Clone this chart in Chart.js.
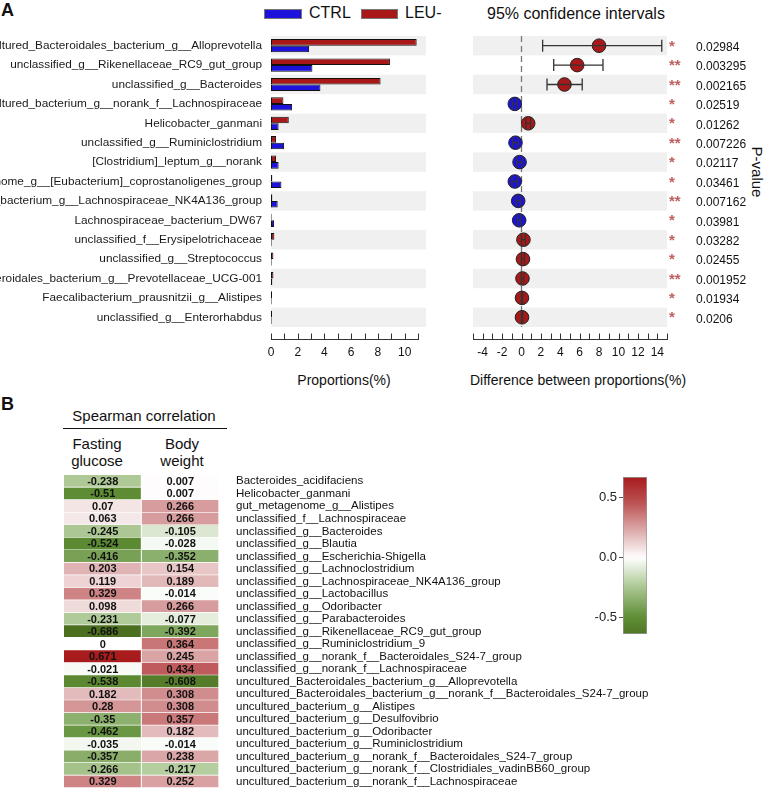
<!DOCTYPE html>
<html>
<head>
<meta charset="utf-8">
<script src="https://cdn.jsdelivr.net/npm/chart.js@4.4.1/dist/chart.umd.min.js"></script>
<style>
  body { margin: 0; background: #fff; width: 767px; height: 792px; position: relative; overflow: hidden;
         font-family: "Liberation Sans", Arial, sans-serif; color: #111; }
  canvas, .txt { position: absolute; }
  .txt { white-space: nowrap; line-height: 1; }
  .box { position: absolute; border: 1px solid #777; box-sizing: border-box; }
</style>
</head>
<body>
<div class="txt" style="left:1px;top:1px;font-size:18px;font-weight:bold;">A</div>
<div class="box" style="left:264px;top:9px;width:38px;height:10px;background:#1c12dc;"></div>
<div class="txt" style="left:309px;top:4.5px;font-size:16px;">CTRL</div>
<div class="box" style="left:361px;top:9px;width:37px;height:10px;background:#a81818;"></div>
<div class="txt" style="left:405px;top:4.5px;font-size:16px;">LEU-</div>
<div class="txt" style="left:487px;top:6px;font-size:16px;">95% confidence intervals</div>
<div class="txt" style="left:244px;top:373px;width:200px;text-align:center;font-size:14px;">Proportions(%)</div>
<div class="txt" style="left:470px;top:373px;width:200px;text-align:center;font-size:14px;">Difference between proportions(%)</div>
<div class="txt" style="left:757px;top:172px;font-size:15px;transform:translate(-50%,-50%) rotate(90deg);">P-value</div>

<div class="txt" style="left:1px;top:395px;font-size:18px;font-weight:bold;">B</div>
<div class="txt" style="left:44px;top:408px;width:200px;text-align:center;font-size:15px;">Spearman correlation</div>
<div style="position:absolute;left:63px;top:427.5px;width:164px;height:1.5px;background:#111;"></div>
<div class="txt" style="left:47px;top:436px;width:100px;text-align:center;font-size:15px;line-height:16.5px;">Fasting<br>glucose</div>
<div class="txt" style="left:132px;top:436px;width:100px;text-align:center;font-size:15px;line-height:16.5px;">Body<br>weight</div>

<canvas id="barChart" width="440" height="400" style="left:0;top:0;"></canvas>
<canvas id="ciChart" width="327" height="400" style="left:440px;top:0;"></canvas>
<canvas id="heatChart" width="767" height="329" style="left:0;top:467px;"></canvas>
<canvas id="scaleChart" width="100" height="180" style="left:560px;top:465px;"></canvas>

<script>
// panel A: taxa that differ between groups
const taxaA = [
  'uncultured_Bacteroidales_bacterium_g__Alloprevotella',
  'unclassified_g__Rikenellaceae_RC9_gut_group',
  'unclassified_g__Bacteroides',
  'uncultured_bacterium_g__norank_f__Lachnospiraceae',
  'Helicobacter_ganmani',
  'unclassified_g__Ruminiclostridium',
  '[Clostridium]_leptum_g__norank',
  'gut_metagenome_g__[Eubacterium]_coprostanoligenes_group',
  'uncultured_bacterium_g__Lachnospiraceae_NK4A136_group',
  'Lachnospiraceae_bacterium_DW67',
  'unclassified_f__Erysipelotrichaceae',
  'unclassified_g__Streptococcus',
  'uncultured_Bacteroidales_bacterium_g__Prevotellaceae_UCG-001',
  'Faecalibacterium_prausnitzii_g__Alistipes',
  'unclassified_g__Enterorhabdus'
];
const ctrlProp = [2.85, 3.1, 3.7, 1.58, 0.57, 0.98, 0.57, 0.78, 0.5, 0.23, 0.05, 0.05, 0.1, 0.05, 0.05];
const leuProp  = [10.9, 8.9, 8.2, 0.93, 1.33, 0.38, 0.38, 0.1, 0.1, 0.05, 0.25, 0.18, 0.18, 0.08, 0.08];
const diffMean = [7.99, 5.74, 4.43, -0.69, 0.69, -0.62, -0.2, -0.69, -0.34, -0.24, 0.2, 0.15, 0.1, 0.05, 0.05];
const ciLow    = [2.18, 3.32, 2.63, -0.95, 0.45, -0.9, -0.45, -1.0, -0.55, -0.4, 0.0, 0.0, -0.02, 0.0, 0.0];
const ciHigh   = [14.46, 8.4, 6.26, -0.43, 0.93, -0.35, 0.05, -0.4, -0.12, -0.08, 0.4, 0.3, 0.25, 0.12, 0.12];
const pValues  = ['0.02984', '0.003295', '0.002165', '0.02519', '0.01262', '0.007226', '0.02117',
                  '0.03461', '0.007162', '0.03981', '0.03282', '0.02455', '0.001952', '0.01934', '0.0206'];

// panel B: spearman correlations
const taxaB = [
  'Bacteroides_acidifaciens',
  'Helicobacter_ganmani',
  'gut_metagenome_g__Alistipes',
  'unclassified_f__Lachnospiraceae',
  'unclassified_g__Bacteroides',
  'unclassified_g__Blautia',
  'unclassified_g__Escherichia-Shigella',
  'unclassified_g__Lachnoclostridium',
  'unclassified_g__Lachnospiraceae_NK4A136_group',
  'unclassified_g__Lactobacillus',
  'unclassified_g__Odoribacter',
  'unclassified_g__Parabacteroides',
  'unclassified_g__Rikenellaceae_RC9_gut_group',
  'unclassified_g__Ruminiclostridium_9',
  'unclassified_g__norank_f__Bacteroidales_S24-7_group',
  'unclassified_g__norank_f__Lachnospiraceae',
  'uncultured_Bacteroidales_bacterium_g__Alloprevotella',
  'uncultured_Bacteroidales_bacterium_g__norank_f__Bacteroidales_S24-7_group',
  'uncultured_bacterium_g__Alistipes',
  'uncultured_bacterium_g__Desulfovibrio',
  'uncultured_bacterium_g__Odoribacter',
  'uncultured_bacterium_g__Ruminiclostridium',
  'uncultured_bacterium_g__norank_f__Bacteroidales_S24-7_group',
  'uncultured_bacterium_g__norank_f__Clostridiales_vadinBB60_group',
  'uncultured_bacterium_g__norank_f__Lachnospiraceae'
];
const glucoseR = [-0.238, -0.51, 0.07, 0.063, -0.245, -0.524, -0.416, 0.203, 0.119, 0.329, 0.098, -0.231, -0.686,
                  0, 0.671, -0.021, -0.538, 0.182, 0.28, -0.35, -0.462, -0.035, -0.357, -0.266, 0.329];
const weightR  = [0.007, 0.007, 0.266, 0.266, -0.105, -0.028, -0.352, 0.154, 0.189, -0.014, 0.266, -0.077, -0.392,
                  0.364, 0.245, 0.434, -0.608, 0.308, 0.308, 0.357, 0.182, -0.014, 0.238, -0.217, 0.252];
const scaleMin = -0.64;
const scaleMax = 0.675;
const scaleTicks = [-0.5, 0, 0.5];

const RED = '#a81818';
const BLUE = '#1c12dc';
const FONT = '"Liberation Sans", Arial, sans-serif';

// red / white / green colour map
const posStops = [[0, [255, 255, 255]], [0.25, [217, 162, 163]], [0.45, [189, 85, 86]], [0.7, [165, 20, 22]]];
const negStops = [[0, [255, 255, 255]], [0.25, [170, 198, 145]], [0.5, [95, 142, 54]], [0.7, [74, 108, 29]]];
function corrColor(v) {
  const stops = v >= 0 ? posStops : negStops;
  const a = Math.abs(v);
  for (let i = 1; i < stops.length; i++) {
    if (a <= stops[i][0] || i === stops.length - 1) {
      const t = Math.min(1, (a - stops[i - 1][0]) / (stops[i][0] - stops[i - 1][0]));
      const c = stops[i - 1][1].map((s, k) => Math.round(s + (stops[i][1][k] - s) * t));
      return 'rgb(' + c.join(',') + ')';
    }
  }
}

// alternating grey rows behind the marks
const rowBands = {
  id: 'rowBands',
  beforeDatasetsDraw(chart, args, opts) {
    const {ctx, chartArea} = chart;
    const xs = chart.scales.x, ys = chart.scales.y;
    const h = chartArea.height / opts.rows;
    const x0 = opts.from !== undefined ? xs.getPixelForValue(opts.from) : chartArea.left;
    const x1 = opts.to !== undefined ? xs.getPixelForValue(opts.to) : chartArea.right;
    ctx.save();
    ctx.fillStyle = '#f0f0f0';
    for (let i = 0; i < opts.rows; i += 2) {
      const yc = ys.getPixelForValue(i);
      ctx.fillRect(x0, yc - h / 2, x1 - x0, h);
    }
    if (opts.zeroLine) {
      const px = xs.getPixelForValue(0);
      ctx.strokeStyle = '#777';
      ctx.lineWidth = 1.3;
      ctx.setLineDash([6, 4]);
      ctx.beginPath();
      ctx.moveTo(px, chartArea.top);
      ctx.lineTo(px, chartArea.bottom);
      ctx.stroke();
    }
    ctx.restore();
  }
};

// R style axis: line below the plot, ticks pointing up
const baseAxis = {
  id: 'baseAxis',
  afterDraw(chart, args, opts) {
    const {ctx, chartArea} = chart;
    const xs = chart.scales.x;
    const y = Math.round(chartArea.bottom + opts.gap) + 0.5;
    const ticks = xs.ticks;
    ctx.save();
    ctx.strokeStyle = '#333';
    ctx.lineWidth = 1;
    ctx.beginPath();
    ctx.moveTo(Math.round(xs.getPixelForValue(ticks[0].value)), y);
    ctx.lineTo(Math.round(xs.getPixelForValue(ticks[ticks.length - 1].value)) + 1, y);
    ticks.forEach(t => {
      const px = Math.round(xs.getPixelForValue(t.value)) + 0.5;
      ctx.moveTo(px, y);
      ctx.lineTo(px, y - 6);
    });
    ctx.stroke();
    ctx.restore();
  }
};

// error bars, stars and p-values for the CI panel
const ciExtras = {
  id: 'ciExtras',
  afterDatasetsDraw(chart) {
    const {ctx, chartArea} = chart;
    const xs = chart.scales.x, ys = chart.scales.y;
    ctx.save();
    ctx.strokeStyle = '#333';
    ctx.lineWidth = 1.3;
    diffMean.forEach((d, i) => {
      const y = ys.getPixelForValue(i);
      const a = xs.getPixelForValue(ciLow[i]), b = xs.getPixelForValue(ciHigh[i]);
      ctx.beginPath();
      ctx.moveTo(a, y); ctx.lineTo(b, y);
      ctx.moveTo(a, y - 6); ctx.lineTo(a, y + 6);
      ctx.moveTo(b, y - 6); ctx.lineTo(b, y + 6);
      ctx.stroke();
    });
    ctx.textBaseline = 'middle';
    ctx.textAlign = 'left';
    pValues.forEach((p, i) => {
      const y = ys.getPixelForValue(i);
      ctx.fillStyle = '#c06060';
      ctx.font = 'bold 15px ' + FONT;
      ctx.fillText(parseFloat(p) < 0.01 ? '**' : '*', chartArea.right + 2, y + 1);
      ctx.fillStyle = '#111';
      ctx.font = '12px ' + FONT;
      ctx.fillText(p, chartArea.right + 29, y + 2);
    });
    ctx.restore();
  }
};

// numbers printed inside heatmap cells
const cellText = {
  id: 'cellText',
  afterDatasetsDraw(chart) {
    const {ctx} = chart;
    const sources = [glucoseR, weightR];
    ctx.save();
    ctx.font = 'bold 11px ' + FONT;
    ctx.fillStyle = '#111';
    ctx.textAlign = 'center';
    ctx.textBaseline = 'middle';
    chart.data.datasets.forEach((ds, d) => {
      chart.getDatasetMeta(d).data.forEach((el, i) => {
        const p = el.getProps(['x', 'y', 'base'], true);
        ctx.fillText(String(sources[d][i]), (p.x + p.base) / 2, p.y + 0.5);
      });
    });
    ctx.restore();
  }
};

Chart.defaults.font.family = FONT;
Chart.defaults.color = '#111';
Chart.defaults.animation = false;

new Chart(document.getElementById('barChart'), {
  type: 'bar',
  data: {
    labels: taxaA,
    datasets: [
      { label: 'LEU-', data: leuProp, backgroundColor: RED },
      { label: 'CTRL', data: ctrlProp, backgroundColor: BLUE }
    ]
  },
  options: {
    responsive: false,
    indexAxis: 'y',
    layout: { padding: { top: 36, right: 22, bottom: 0, left: 0 } },
    datasets: {
      bar: { borderColor: '#111', borderWidth: 1, borderSkipped: false,
             categoryPercentage: 0.68, barPercentage: 1 }
    },
    scales: {
      x: {
        min: 0, max: 11,
        grid: { display: false, drawTicks: false },
        border: { display: false },
        ticks: { stepSize: 1, autoSkip: false, maxRotation: 0, padding: 18, font: { size: 12 },
                 callback: v => (v % 2 === 0 && v <= 10) ? String(v) : '' },
        afterFit: s => { s.height = 73; }
      },
      y: {
        grid: { display: false, drawTicks: false },
        border: { display: false },
        ticks: { autoSkip: false, padding: 9, font: { size: 11.8 }, color: '#1a1a1a' },
        afterFit: s => { s.width = 271; }
      }
    },
    plugins: {
      legend: { display: false },
      tooltip: { enabled: false },
      rowBands: { rows: taxaA.length, from: 0, to: 11.6 },
      baseAxis: { gap: 12 }
    }
  },
  plugins: [rowBands, baseAxis]
});

new Chart(document.getElementById('ciChart'), {
  type: 'scatter',
  data: {
    datasets: [{
      label: 'difference',
      data: diffMean.map((d, i) => ({ x: d, y: i })),
      pointRadius: 6.8,
      pointBackgroundColor: diffMean.map(d => d >= 0 ? RED : BLUE),
      pointBorderColor: '#222',
      pointBorderWidth: 1
    }]
  },
  options: {
    responsive: false,
    layout: { padding: { top: 36, right: 100, bottom: 0, left: 33 } },
    scales: {
      x: {
        type: 'linear', min: -5, max: 15,
        grid: { display: false, drawTicks: false },
        border: { display: false },
        ticks: { stepSize: 1, autoSkip: false, maxRotation: 0, padding: 18, font: { size: 12 },
                 callback: v => (v % 2 === 0 && v >= -4 && v <= 14) ? String(v) : '' },
        afterFit: s => { s.height = 73; }
      },
      y: { type: 'linear', min: -0.5, max: taxaA.length - 0.5, reverse: true, display: false }
    },
    plugins: {
      legend: { display: false },
      tooltip: { enabled: false },
      rowBands: { rows: taxaA.length, zeroLine: true },
      baseAxis: { gap: 12 }
    }
  },
  plugins: [rowBands, baseAxis, ciExtras]
});

new Chart(document.getElementById('heatChart'), {
  type: 'bar',
  data: {
    labels: taxaB,
    datasets: [
      { label: 'Fasting glucose', data: glucoseR.map(() => 1), backgroundColor: glucoseR.map(corrColor) },
      { label: 'Body weight', data: weightR.map(() => 1), backgroundColor: weightR.map(corrColor) }
    ]
  },
  options: {
    responsive: false,
    indexAxis: 'y',
    layout: { padding: { top: 8, right: 0, bottom: 8, left: 64 } },
    datasets: {
      bar: { borderColor: '#fff', borderWidth: { top: 0, left: 0, right: 1, bottom: 1 }, borderSkipped: false,
             categoryPercentage: 1, barPercentage: 1 }
    },
    scales: {
      x: { stacked: true, min: 0, max: 2, display: false },
      y: {
        stacked: true,
        position: 'right',
        // invisible tick marks give the gap between cells and names
        grid: { display: true, drawOnChartArea: false, drawTicks: true, tickLength: 17, color: 'rgba(0,0,0,0)' },
        border: { display: false },
        ticks: { autoSkip: false, padding: 0, font: { size: 11.5 }, color: '#111' },
        afterFit: s => { s.width = 548; }
      }
    },
    plugins: { legend: { display: false }, tooltip: { enabled: false } }
  },
  plugins: [cellText]
});

new Chart(document.getElementById('scaleChart'), {
  type: 'bar',
  data: {
    labels: [''],
    datasets: [{
      label: 'scale',
      data: [[scaleMin, scaleMax]],
      backgroundColor: c => {
        const ch = c.chart;
        if (!ch.chartArea) return '#fff';
        const ys = ch.scales.y;
        const g = ch.ctx.createLinearGradient(0, ys.getPixelForValue(scaleMax), 0, ys.getPixelForValue(scaleMin));
        for (let k = 0; k <= 40; k++) {
          g.addColorStop(k / 40, corrColor(scaleMax - k * (scaleMax - scaleMin) / 40));
        }
        return g;
      },
      borderColor: '#999',
      borderWidth: 1,
      borderSkipped: false,
      categoryPercentage: 1,
      barPercentage: 1
    }]
  },
  options: {
    responsive: false,
    layout: { padding: { top: 12, right: 13, bottom: 11, left: 0 } },
    scales: {
      x: { display: false },
      y: {
        min: scaleMin, max: scaleMax,
        afterBuildTicks: s => { s.ticks = scaleTicks.map(v => ({ value: v })); },
        grid: { drawOnChartArea: false, drawTicks: true, tickLength: 4, color: '#555' },
        border: { display: false },
        ticks: { padding: 2, font: { size: 13 }, color: '#222', callback: v => v.toFixed(1) },
        afterFit: s => { s.width = 63; }
      }
    },
    plugins: { legend: { display: false }, tooltip: { enabled: false } }
  }
});
</script>
</body>
</html>
